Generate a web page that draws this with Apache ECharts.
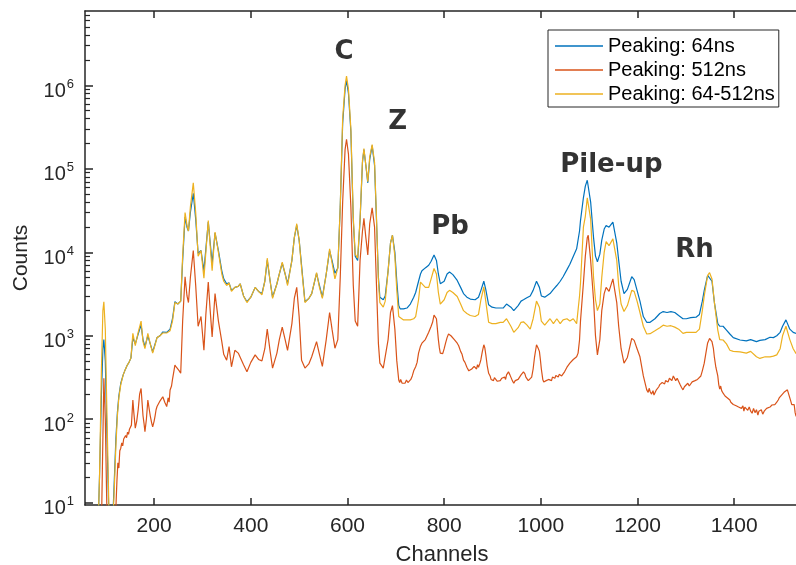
<!DOCTYPE html>
<html>
<head>
<meta charset="utf-8">
<title>Spectrum - peaking times</title>
<script src="https://cdn.jsdelivr.net/npm/echarts@6.0.0/dist/echarts.min.js"></script>
<style>
  html, body { margin: 0; padding: 0; background: #fff; }
  #main { width: 796px; height: 565px; }
</style>
</head>
<body>
<div id="main"></div>
<script>
// channel numbers for the 64ns and 64-512ns traces
var channels = [
  83, 87, 91, 94, 96, 99, 102, 107, 113, 117,
  121, 124, 127, 131, 136, 140, 144, 148, 152, 156,
  161, 167, 173, 177, 181, 187, 192, 197, 202, 206,
  212, 218, 226, 233, 238, 243, 249, 255, 259, 264,
  268, 271, 275, 281, 286, 291, 297, 303, 307, 312,
  316, 320, 326, 333, 340, 344, 350, 355, 360, 367,
  374, 378, 385, 392, 400, 409, 416, 423, 429, 434,
  440, 445, 454, 459, 465, 471, 476, 485, 490, 495,
  500, 505, 512, 520, 526, 536, 542, 548, 556, 563,
  568, 574, 580, 585, 590, 595, 598, 602, 607, 612,
  616, 621, 626, 631, 634, 638, 642, 646, 651, 656,
  660, 664, 667, 674, 678, 684, 689, 693, 698, 702,
  706, 709, 716, 723, 730, 737, 741, 747, 751, 754,
  761, 768, 773, 779, 784, 788, 792, 795, 800, 806,
  811, 818, 827, 834, 840, 847, 854, 864, 871, 876,
  882, 886, 892, 899, 907, 916, 922, 929, 933, 938,
  944, 953, 959, 964, 971, 978, 984, 991, 997, 1001,
  1008, 1019, 1026, 1033, 1040, 1046, 1054, 1060, 1067, 1074,
  1080, 1082, 1088, 1092, 1096, 1098, 1103, 1109, 1113, 1117,
  1122, 1126, 1131, 1135, 1141, 1149, 1152, 1157, 1161, 1166,
  1172, 1179, 1188, 1193, 1199, 1205, 1212, 1219, 1226, 1236,
  1246, 1253, 1261, 1269, 1277, 1285, 1294, 1301, 1310, 1321,
  1328, 1334, 1338, 1345, 1349, 1354, 1359, 1366, 1370, 1377,
  1384, 1391, 1398, 1412, 1425, 1434, 1446, 1453, 1464, 1474,
  1481, 1488, 1495, 1500, 1507, 1510, 1515, 1522, 1528
];

// counts, peaking 64ns
var counts64 = [
  3, 20, 200, 700, 900, 500, 80, 5, 4, 15,
  60, 120, 190, 270, 340, 390, 440, 480, 540, 950,
  800, 1050, 1350, 900, 740, 1000, 800, 640, 800, 950,
  1000, 1110, 1100, 1200, 1600, 2560, 2400, 2600, 8000, 26500,
  20000, 18000, 30000, 51000, 25000, 9700, 10500, 6000, 11000, 23000,
  13000, 7400, 17000, 10500, 6000, 4800, 4200, 4300, 3500, 3800,
  3900, 4200, 3000, 2560, 2900, 3800, 3400, 3200, 4500, 8000,
  4500, 2900, 4200, 5500, 7400, 5500, 4200, 8000, 15000, 21000,
  14000, 7000, 2560, 2800, 3200, 5600, 4000, 2900, 5500, 10500,
  8000, 5600, 6500, 35000, 350000, 900000, 1150000, 800000, 280000, 24000,
  9000, 8000, 24000, 120000, 170000, 110000, 68000, 130000, 190000, 110000,
  24000, 5000, 2900, 2700, 3000, 6000, 13000, 16000, 10000, 4500,
  2300, 2100, 2100, 2150, 2400, 2900, 3300, 4500, 5500, 6000,
  6500, 7000, 7800, 9300, 8000, 5500, 4200, 4100, 4500, 5500,
  5800, 5400, 4600, 3800, 3200, 2900, 2750, 2700, 2900, 3500,
  4500, 3600, 2350, 2200, 2150, 2150, 2150, 2400, 2500, 2200,
  2000, 2300, 2600, 2700, 2850, 3000, 3500, 4500, 3800, 3000,
  2900, 3200, 3600, 4000, 4500, 5100, 6200, 7200, 8900, 11000,
  18000, 24000, 45000, 62000, 73000, 70000, 40000, 15000, 9000, 7700,
  9500, 14000, 19000, 21000, 20000, 23000, 22000, 13000, 8000, 4500,
  3200, 3600, 5100, 4700, 3500, 2600, 1700, 1450, 1450, 1600,
  1850, 1950, 1900, 1950, 1900, 1750, 1600, 1600, 1650, 1670,
  1800, 2600, 3500, 5300, 5600, 4500, 2500, 1400, 1300, 1300,
  1170, 1050, 950, 890, 870, 900, 850, 880, 900, 960,
  950, 1000, 1100, 1300, 1550, 1500, 1200, 1100, 1070
];

// counts, peaking 64-512ns
var counts64to512 = [
  3, 20, 400, 2000, 2560, 1200, 150, 6, 4, 12,
  50, 110, 180, 260, 340, 390, 440, 480, 540, 1070,
  760, 1100, 1500, 850, 700, 1070, 800, 620, 780, 950,
  1000, 1080, 1080, 1150, 1500, 2500, 2400, 2600, 9000, 30000,
  21000, 18000, 35000, 68000, 30000, 9000, 10500, 4900, 10000, 24000,
  12000, 6000, 17500, 10000, 5500, 4500, 4000, 4300, 3400, 3800,
  3900, 4200, 3000, 2500, 2900, 3800, 3400, 3100, 4500, 8500,
  4500, 2800, 4200, 5500, 7600, 5500, 4000, 8000, 15000, 22000,
  14000, 6500, 2500, 2800, 3200, 5700, 3800, 2800, 5500, 11000,
  7500, 4800, 6500, 35000, 400000, 1000000, 1290000, 900000, 300000, 26000,
  9500, 8500, 25000, 125000, 175000, 110000, 70000, 140000, 195000, 120000,
  26000, 4500, 2500, 2200, 2600, 6000, 13000, 16000, 9000, 3500,
  1700, 1650, 1550, 1550, 1550, 1600, 1700, 2700, 4400, 4300,
  3800, 3800, 4800, 6400, 5500, 3300, 2400, 2350, 2700, 3300,
  3500, 3300, 2950, 2400, 2000, 1850, 1750, 1700, 1800, 2700,
  3850, 2600, 1450, 1400, 1400, 1450, 1450, 1600, 1550, 1300,
  1100, 1250, 1450, 1470, 1350, 1200, 1600, 2600, 2200, 1500,
  1340, 1600, 1400, 1600, 1400, 1550, 1600, 1500, 1600, 1400,
  3000, 4250, 20000, 27000, 45000, 47000, 25000, 5000, 2700, 2000,
  2400, 5000, 10000, 13400, 12000, 14500, 15000, 8000, 4000, 2400,
  1950, 2300, 3500, 3400, 2600, 1900, 1300, 1050, 1060, 1150,
  1250, 1340, 1300, 1320, 1270, 1200, 1070, 1100, 1100, 1100,
  1200, 2000, 3000, 5300, 5700, 4800, 2500, 1170, 900, 890,
  800, 670, 650, 640, 620, 650, 560, 535, 560, 560,
  570, 590, 700, 1000, 1300, 1250, 900, 700, 610
];

// channel numbers for the 512ns trace (denser where it is noisy)
var channels512 = [
  83, 87, 91, 94, 96, 99, 102, 107, 113, 119,
  121, 123, 125, 127, 129, 131, 133, 135, 137, 139,
  141, 143, 145, 147, 149, 151, 153, 156, 158, 161,
  164, 167, 170, 173, 175, 177, 179, 181, 184, 187,
  190, 192, 195, 197, 200, 202, 204, 206, 209, 212,
  215, 218, 222, 226, 229, 231, 233, 236, 238, 241,
  243, 246, 249, 252, 255, 259, 264, 268, 271, 275,
  281, 286, 291, 297, 303, 307, 312, 316, 320, 326,
  333, 340, 344, 350, 355, 360, 367, 374, 378, 385,
  392, 400, 409, 416, 423, 429, 434, 440, 445, 454,
  459, 465, 471, 476, 485, 490, 495, 500, 505, 512,
  520, 526, 536, 542, 548, 556, 563, 568, 574, 580,
  585, 590, 595, 598, 602, 607, 612, 616, 621, 626,
  631, 634, 638, 642, 646, 651, 656, 660, 664, 667,
  674, 678, 684, 689, 693, 698, 702, 706, 708, 710,
  713, 716, 719, 722, 725, 728, 731, 734, 737, 739,
  741, 744, 747, 749, 751, 754, 757, 761, 764, 768,
  770, 773, 776, 779, 782, 784, 786, 788, 790, 792,
  795, 797, 800, 803, 806, 809, 811, 814, 818, 821,
  824, 827, 830, 834, 837, 840, 843, 847, 849, 851,
  854, 857, 860, 862, 864, 867, 869, 871, 874, 876,
  879, 882, 884, 886, 889, 892, 895, 897, 899, 902,
  904, 907, 910, 913, 916, 919, 922, 925, 927, 929,
  931, 933, 936, 938, 941, 944, 947, 950, 953, 956,
  959, 961, 964, 967, 969, 971, 974, 976, 978, 981,
  984, 987, 991, 994, 997, 999, 1001, 1004, 1006, 1008,
  1011, 1014, 1016, 1019, 1022, 1024, 1026, 1029, 1031, 1033,
  1036, 1038, 1040, 1043, 1046, 1049, 1051, 1054, 1057, 1060,
  1063, 1067, 1070, 1074, 1077, 1080, 1082, 1088, 1092, 1096,
  1098, 1103, 1109, 1113, 1117, 1122, 1126, 1131, 1135, 1141,
  1149, 1152, 1157, 1161, 1166, 1172, 1179, 1188, 1193, 1199,
  1205, 1212, 1219, 1222, 1224, 1226, 1229, 1232, 1234, 1236,
  1239, 1241, 1244, 1246, 1249, 1251, 1253, 1256, 1258, 1261,
  1263, 1266, 1269, 1271, 1274, 1277, 1279, 1282, 1285, 1288,
  1291, 1294, 1297, 1299, 1301, 1304, 1307, 1310, 1313, 1316,
  1319, 1321, 1324, 1326, 1328, 1331, 1334, 1338, 1342, 1345,
  1349, 1352, 1354, 1357, 1359, 1362, 1366, 1368, 1370, 1372,
  1374, 1377, 1379, 1381, 1384, 1386, 1388, 1391, 1393, 1395,
  1398, 1401, 1404, 1407, 1409, 1412, 1415, 1418, 1420, 1422,
  1425, 1428, 1431, 1434, 1437, 1440, 1443, 1446, 1449, 1451,
  1453, 1456, 1459, 1462, 1464, 1467, 1469, 1471, 1474, 1476,
  1478, 1481, 1484, 1486, 1488, 1491, 1493, 1495, 1498, 1500,
  1503, 1505, 1507, 1510, 1512, 1515, 1517, 1519, 1522, 1524,
  1526, 1528
];

// counts, peaking 512ns
var counts512 = [
  3, 3, 5, 60, 310, 100, 10, 3, 3, 3,
  9, 18, 30, 26, 42, 45, 52, 48, 58, 55,
  64, 60, 70, 66, 76, 72, 85, 170, 120, 78,
  95, 130, 200, 234, 160, 110, 90, 71, 100, 170,
  130, 110, 90, 81, 95, 110, 130, 142, 150, 165,
  175, 186, 160, 142, 180, 160, 224, 250, 300, 380,
  445, 420, 400, 380, 355, 1500, 5100, 3000, 2500, 5000,
  10500, 4000, 1300, 1700, 670, 1800, 4400, 2000, 970, 3200,
  1500, 850, 600, 510, 740, 425, 670, 620, 600, 450,
  370, 480, 590, 520, 500, 700, 1200, 650, 410, 620,
  900, 1270, 900, 670, 1400, 2800, 3800, 1700, 510, 410,
  460, 560, 850, 600, 430, 900, 1900, 1200, 710, 900,
  5000, 40000, 170000, 226000, 150000, 35000, 4000, 1500, 1300, 8000,
  18000, 25500, 15000, 9300, 22000, 34000, 20000, 4000, 800, 470,
  410, 410, 900, 1900, 2300, 1200, 500, 295, 275, 300,
  270, 285, 270, 295, 275, 285, 300, 330, 380, 360,
  425, 480, 620, 640, 750, 815, 790, 900, 950, 1100,
  1050, 1300, 1450, 1770, 1700, 1600, 1200, 900, 720, 620,
  590, 610, 700, 820, 950, 1050, 1070, 1000, 950, 900,
  880, 815, 760, 650, 600, 510, 480, 420, 440, 380,
  370, 400, 390, 430, 440, 400, 450, 420, 470, 520,
  650, 780, 720, 600, 440, 355, 330, 300, 310, 290,
  315, 300, 285, 300, 290, 310, 295, 320, 300, 340,
  330, 370, 340, 330, 290, 270, 290, 275, 300, 320,
  340, 330, 370, 350, 320, 310, 290, 300, 280, 320,
  400, 560, 780, 720, 650, 520, 400, 300, 280, 270,
  290, 280, 300, 300, 290, 320, 320, 310, 335, 330,
  320, 345, 340, 330, 350, 370, 360, 420, 440, 470,
  480, 520, 540, 560, 620, 890, 1500, 4250, 9000, 15000,
  16000, 8000, 2700, 1000, 590, 900, 2000, 3200, 3800, 3400,
  4800, 4900, 2500, 1300, 700, 470, 550, 930, 880, 700,
  560, 330, 225, 210, 235, 215, 200, 220, 195, 205,
  225, 215, 245, 260, 250, 275, 280, 265, 290, 300,
  280, 310, 310, 290, 330, 320, 290, 310, 300, 260,
  240, 225, 245, 235, 250, 270, 250, 260, 280, 265,
  290, 280, 300, 285, 300, 330, 380, 470, 650, 820,
  930, 900, 850, 700, 550, 420, 330, 260, 230, 250,
  220, 205, 215, 190, 195, 180, 185, 170, 160, 165,
  150, 155, 145, 150, 140, 140, 135, 145, 125, 140,
  135, 128, 140, 125, 118, 135, 120, 130, 112, 125,
  120, 130, 115, 125, 125, 135, 128, 140, 140, 135,
  148, 142, 150, 158, 160, 170, 180, 185, 195, 200,
  210, 205, 215, 225, 215, 180, 165, 150, 142, 150,
  120, 108
];

var seriesNames = ['Peaking: 64ns', 'Peaking: 512ns', 'Peaking: 64-512ns'];
var seriesColors = ['#0072BD', '#D95319', '#EDB120'];

// peak labels placed on the chart
var peakNames = ['C', 'Z', 'Pb', 'Pile-up', 'Rh'];
var peakChannels = [593, 704, 812, 1146, 1318];
var peakCounts = [2.5e6, 3.6e5, 2.0e4, 1.1e5, 1.07e4];

var xTicks = [200, 400, 600, 800, 1000, 1200, 1400];
var yDecades = [1, 2, 3, 4, 5, 6];

var xMin = 57, xMax = 1534;
var yMin = 0.9725, yMax = 6.891;   // log10(counts)
var axisColor = '#262626';
var font = '"Liberation Sans", Arial, Helvetica, sans-serif';

function toPairs(ch, cnt) {
    return ch.map(function (c, i) { return [c, Math.log10(cnt[i])]; });
}

// log minor ticks 2..9 in each decade
var minorTicks = [];
for (var n = 0; n <= 6; n++) {
    for (var k = 2; k <= 9; k++) {
        var v = n + Math.log10(k);
        if (v > yMin && v < yMax) minorTicks.push(v);
    }
}

var myChart = echarts.init(document.getElementById('main'));

var traces = [
    toPairs(channels, counts64),
    toPairs(channels512, counts512),
    toPairs(channels, counts64to512)
];

var lineSeries = traces.map(function (pts, i) {
    return {
        name: seriesNames[i],
        type: 'line',
        xAxisIndex: 0,
        yAxisIndex: 0,
        data: pts,
        symbol: 'none',
        clip: true,
        lineStyle: { width: 1.2, color: seriesColors[i] },
        itemStyle: { color: seriesColors[i] },
        z: 2 + i
    };
});

myChart.setOption({
    animation: false,
    textStyle: { fontFamily: font },
    // keep the plot box fixed, labels may sit outside it
    grid: { left: 85, top: 11, right: -3, bottom: 60, containLabel: false, outerBoundsMode: 'none' },
    legend: {
        data: seriesNames.map(function (nm) { return { name: nm, icon: 'rect' }; }),
        orient: 'vertical',
        left: 548,
        top: 30,
        itemWidth: 48,
        itemHeight: 1.5,
        itemGap: 4,
        padding: [6, 4, 3, 7],
        backgroundColor: '#fff',
        borderColor: axisColor,
        borderWidth: 1,
        borderRadius: 0,
        textStyle: { fontSize: 20, color: '#000', fontFamily: font }
    },
    xAxis: [
        {
            type: 'value',
            position: 'bottom',
            min: xMin,
            max: xMax,
            name: 'Channels',
            nameLocation: 'middle',
            nameGap: 39,
            nameTextStyle: { fontSize: 22, color: axisColor, fontFamily: font },
            axisLine: { show: true, lineStyle: { color: axisColor, width: 1.5 } },
            axisTick: { show: true, inside: true, length: 7, customValues: xTicks, lineStyle: { color: axisColor, width: 1.5 } },
            axisLabel: {
                customValues: xTicks,
                margin: 11,
                fontSize: 21,
                color: axisColor,
                fontFamily: font,
                formatter: function (val) { return String(val); }
            },
            splitLine: { show: false }
        },
        {
            type: 'value',
            position: 'top',
            min: xMin,
            max: xMax,
            axisLine: { show: true, lineStyle: { color: axisColor, width: 1.5 } },
            axisTick: { show: true, inside: true, length: 7, customValues: xTicks, lineStyle: { color: axisColor, width: 1.5 } },
            axisLabel: { show: false },
            splitLine: { show: false }
        }
    ],
    yAxis: [
        {
            type: 'value',
            position: 'left',
            min: yMin,
            max: yMax,
            name: 'Counts',
            nameLocation: 'middle',
            nameGap: 53,
            nameTextStyle: { fontSize: 21, color: axisColor, fontFamily: font },
            axisLine: { show: true, lineStyle: { color: axisColor, width: 1.5 } },
            axisTick: { show: true, inside: true, length: 8, customValues: yDecades, lineStyle: { color: axisColor, width: 1.5 } },
            axisLabel: {
                customValues: yDecades,
                margin: 11,
                formatter: function (val) { return '{b|10}{e|' + Math.round(val) + '}'; },
                rich: {
                    b: { fontSize: 20, color: axisColor, fontFamily: font, padding: [12, 0, 0, 0] },
                    e: { fontSize: 13, color: axisColor, fontFamily: font, padding: [0, 0, 2, 1] }
                }
            },
            splitLine: { show: false }
        },
        {
            // minor ticks of the log scale
            type: 'value',
            position: 'left',
            min: yMin,
            max: yMax,
            axisLine: { show: false },
            axisTick: { show: true, inside: true, length: 5, customValues: minorTicks, lineStyle: { color: axisColor, width: 1.2 } },
            axisLabel: { show: false },
            splitLine: { show: false }
        }
    ],
    series: lineSeries.concat([{
        type: 'scatter',
        silent: true,
        symbolSize: 0,
        data: peakNames.map(function (nm, i) {
            return { name: nm, value: [peakChannels[i], Math.log10(peakCounts[i])] };
        }),
        label: {
            show: true,
            position: 'inside',
            formatter: '{b}',
            fontFamily: '"DejaVu Sans", Verdana, sans-serif',
            fontWeight: 'bold',
            fontSize: 26,
            color: '#000'
        },
        z: 10
    }])
});
</script>
</body>
</html>
